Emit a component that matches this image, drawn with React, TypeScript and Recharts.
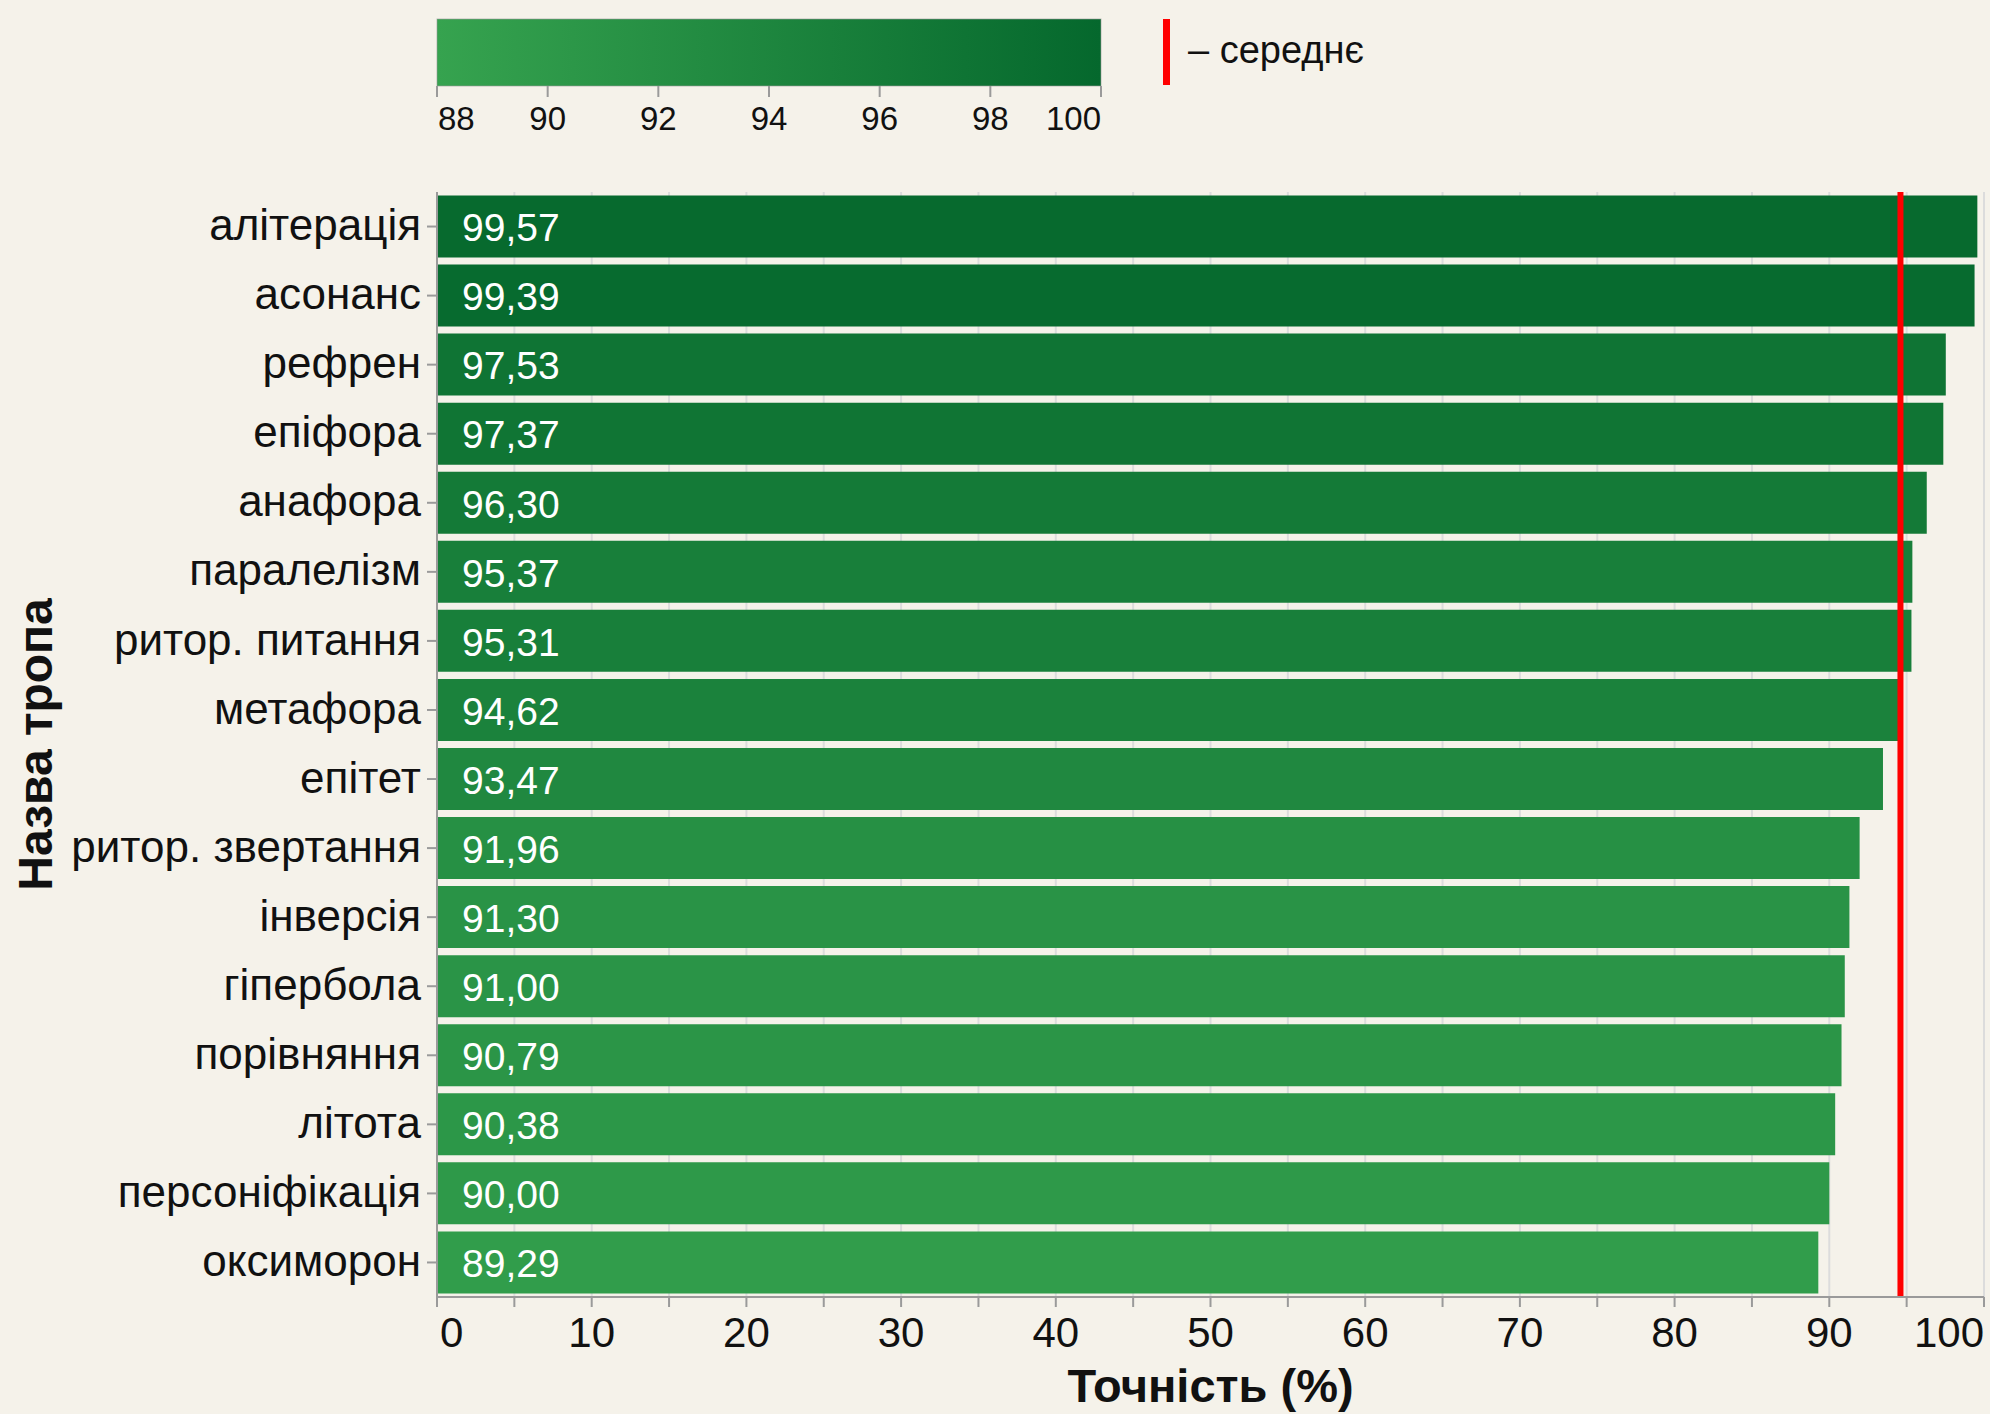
import React from 'react';
import {
  BarChart,
  Bar,
  XAxis,
  YAxis,
  CartesianGrid,
  ReferenceLine,
  Cell,
  LabelList,
} from 'recharts';

// ---------- data ----------
const categories = [
  'алітерація',
  'асонанс',
  'рефрен',
  'епіфора',
  'анафора',
  'паралелізм',
  'ритор. питання',
  'метафора',
  'епітет',
  'ритор. звертання',
  'інверсія',
  'гіпербола',
  'порівняння',
  'літота',
  'персоніфікація',
  'оксиморон',
];
const accuracy = [
  99.57, 99.39, 97.53, 97.37, 96.3, 95.37, 95.31, 94.62, 93.47, 91.96, 91.3, 91.0,
  90.79, 90.38, 90.0, 89.29,
];
const MEAN_VALUE = 94.6;
const xTicks = [0, 5, 10, 15, 20, 25, 30, 35, 40, 45, 50, 55, 60, 65, 70, 75, 80, 85, 90, 95, 100];
const colorTicks = [88, 90, 92, 94, 96, 98, 100];
const COLOR_MIN = 88;
const COLOR_MAX = 100;
const X_TITLE = 'Точність (%)';
const Y_TITLE = 'Назва тропа';
const LEGEND_TEXT = '– середнє';

// ---------- styles / layout ----------
const W = 1990;
const H = 1414;
const BG = '#f5f2ea';
const FONT = '"Liberation Sans", Arial, Helvetica, sans-serif';
const TEXT = '#111111';
const AXIS = '#9a9a9a';
const GRID = '#dcdcdc';
const LOW_RGB = [54, 163, 79];
const HIGH_RGB = [5, 104, 45];
const PLOT_LEFT = 437;
const PLOT_RIGHT = 1984;
const PLOT_TOP = 192;
const PLOT_BOTTOM = 1297;
const CB_LEFT = 437;
const CB_RIGHT = 1101;
const CB_TOP = 19;
const CB_BOTTOM = 86;

const rgb = (c: number[]) => `rgb(${c.map((v) => Math.round(v)).join(',')})`;
const colorFor = (v: number) => {
  let t = (v - COLOR_MIN) / (COLOR_MAX - COLOR_MIN);
  t = Math.max(0, Math.min(1, t));
  return rgb(LOW_RGB.map((l, i) => l + (HIGH_RGB[i] - l) * t));
};

const data = categories.map((name, i) => ({ name, value: accuracy[i] }));

const fmt = (v: number) => v.toFixed(2).replace('.', ',');

const XTick = (props: any) => {
  const { x, y, payload } = props;
  const v = payload.value as number;
  if (v % 10 !== 0) return <g />;
  let anchor: 'start' | 'middle' | 'end' = 'middle';
  let dx = 0;
  if (v === 0) {
    anchor = 'start';
    dx = 3;
  } else if (v === 100) {
    anchor = 'end';
  }
  return (
    <text
      x={x + dx}
      y={y}
      dy="0.71em"
      textAnchor={anchor}
      fontSize={42}
      fontFamily={FONT}
      fill={TEXT}
    >
      {v}
    </text>
  );
};

const YTick = (props: any) => {
  const { x, y, payload } = props;
  return (
    <text x={x} y={y} dy="0.31em" textAnchor="end" fontSize={44} fontFamily={FONT} fill={TEXT}>
      {payload.value}
    </text>
  );
};

const ValueLabel = (props: any) => {
  const { x, y, height, value } = props;
  return (
    <text
      x={x + 25}
      y={y + height / 2}
      dy="0.38em"
      textAnchor="start"
      fontSize={39}
      fontFamily={FONT}
      fill="#ffffff"
    >
      {fmt(value)}
    </text>
  );
};

const cbX = (v: number) => CB_LEFT + ((v - COLOR_MIN) / (COLOR_MAX - COLOR_MIN)) * (CB_RIGHT - CB_LEFT);

export default function App() {
  return (
    <div
      style={{
        position: 'absolute',
        left: 0,
        top: 0,
        width: W,
        height: H,
        background: BG,
        overflow: 'hidden',
      }}
    >
      <BarChart
        width={W}
        height={H}
        data={data}
        layout="vertical"
        margin={{ top: PLOT_TOP, right: W - PLOT_RIGHT, bottom: 0, left: 0 }}
        barCategoryGap="5%"
      >
        <CartesianGrid horizontal={false} vertical stroke={GRID} strokeWidth={2} />
        <XAxis
          type="number"
          domain={[0, 100]}
          ticks={xTicks}
          interval={0}
          height={H - PLOT_BOTTOM}
          tickSize={10}
          tickMargin={10}
          stroke={AXIS}
          strokeWidth={2}
          tickLine={{ stroke: AXIS, strokeWidth: 2 }}
          axisLine={{ stroke: AXIS, strokeWidth: 2 }}
          tick={<XTick />}
          allowDataOverflow
        />
        <YAxis
          type="category"
          dataKey="name"
          width={PLOT_LEFT}
          interval={0}
          tickSize={10}
          tickMargin={6}
          tickLine={{ stroke: AXIS, strokeWidth: 2 }}
          axisLine={{ stroke: AXIS, strokeWidth: 2 }}
          tick={<YTick />}
        />
        <Bar dataKey="value" isAnimationActive={false}>
          {data.map((d, i) => (
            <Cell key={i} fill={colorFor(d.value)} />
          ))}
          <LabelList dataKey="value" content={<ValueLabel />} />
        </Bar>
        <ReferenceLine x={MEAN_VALUE} stroke="#ff0000" strokeWidth={6} ifOverflow="extendDomain" />
      </BarChart>

      <svg
        width={W}
        height={H}
        style={{ position: 'absolute', left: 0, top: 0, pointerEvents: 'none' }}
      >
        <defs>
          <linearGradient id="cbGrad" x1="0" y1="0" x2="1" y2="0">
            <stop offset="0%" stopColor={rgb(LOW_RGB)} />
            <stop offset="100%" stopColor={rgb(HIGH_RGB)} />
          </linearGradient>
        </defs>
        <rect
          x={CB_LEFT}
          y={CB_TOP}
          width={CB_RIGHT - CB_LEFT}
          height={CB_BOTTOM - CB_TOP}
          fill="url(#cbGrad)"
          stroke="#9a9a9a"
          strokeOpacity={0.6}
          strokeWidth={1}
        />
        {colorTicks.map((v) => {
          const x = cbX(v);
          const anchor = v === COLOR_MIN ? 'start' : v === COLOR_MAX ? 'end' : 'middle';
          return (
            <g key={v}>
              <line x1={x} x2={x} y1={CB_BOTTOM} y2={CB_BOTTOM + 11} stroke={AXIS} strokeWidth={2} />
              <text
                x={x + (v === COLOR_MIN ? 1 : 0)}
                y={130}
                textAnchor={anchor}
                fontSize={33}
                fontFamily={FONT}
                fill={TEXT}
              >
                {v}
              </text>
            </g>
          );
        })}
        <rect x={1163} y={CB_TOP} width={7} height={CB_BOTTOM - CB_TOP - 1} fill="#ff0000" />
        <text x={1188} y={63} fontSize={38} fontFamily={FONT} fill={TEXT}>
          {LEGEND_TEXT}
        </text>

        <text
          x={(PLOT_LEFT + PLOT_RIGHT) / 2}
          y={1402}
          textAnchor="middle"
          fontSize={47}
          fontWeight="bold"
          fontFamily={FONT}
          fill={TEXT}
        >
          {X_TITLE}
        </text>
        <text
          x={0}
          y={0}
          transform={`translate(52, ${(PLOT_TOP + PLOT_BOTTOM) / 2}) rotate(-90)`}
          textAnchor="middle"
          fontSize={48}
          fontWeight="bold"
          fontFamily={FONT}
          fill={TEXT}
        >
          {Y_TITLE}
        </text>
      </svg>
    </div>
  );
}
